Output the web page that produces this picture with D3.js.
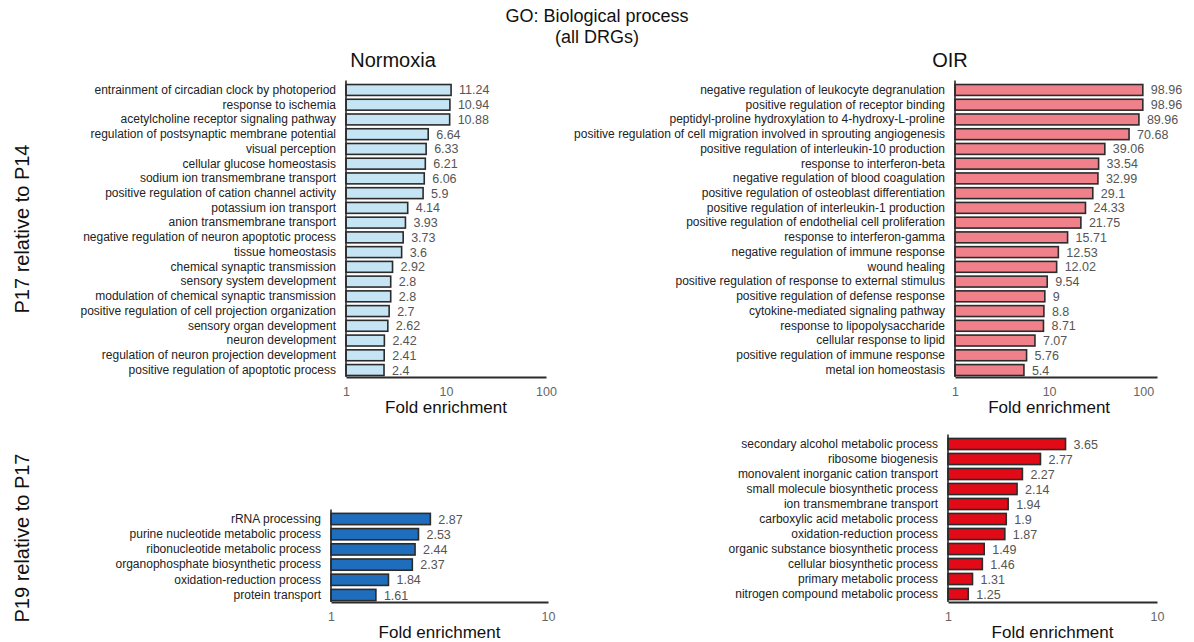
<!DOCTYPE html>
<html>
<head>
<meta charset="utf-8">
<script src="https://cdn.jsdelivr.net/npm/d3@7"></script>
<style>
  html, body { margin: 0; padding: 0; background: #fff; }
  svg { display: block; font-family: "Liberation Sans", Arial, sans-serif; }
</style>
</head>
<body>
<svg id="chart" width="1194" height="642"></svg>
<script>
// GO biological process enrichment, all DRGs
const normoxiaEarlyTerms = [
  "entrainment of circadian clock by photoperiod",
  "response to ischemia",
  "acetylcholine receptor signaling pathway",
  "regulation of postsynaptic membrane potential",
  "visual perception",
  "cellular glucose homeostasis",
  "sodium ion transmembrane transport",
  "positive regulation of cation channel activity",
  "potassium ion transport",
  "anion transmembrane transport",
  "negative regulation of neuron apoptotic process",
  "tissue homeostasis",
  "chemical synaptic transmission",
  "sensory system development",
  "modulation of chemical synaptic transmission",
  "positive regulation of cell projection organization",
  "sensory organ development",
  "neuron development",
  "regulation of neuron projection development",
  "positive regulation of apoptotic process"
];
const normoxiaEarlyValues = [11.24, 10.94, 10.88, 6.64, 6.33, 6.21, 6.06, 5.9, 4.14, 3.93,
  3.73, 3.6, 2.92, 2.8, 2.8, 2.7, 2.62, 2.42, 2.41, 2.4];

const oirEarlyTerms = [
  "negative regulation of leukocyte degranulation",
  "positive regulation of receptor binding",
  "peptidyl-proline hydroxylation to 4-hydroxy-L-proline",
  "positive regulation of cell migration involved in sprouting angiogenesis",
  "positive regulation of interleukin-10 production",
  "response to interferon-beta",
  "negative regulation of blood coagulation",
  "positive regulation of osteoblast differentiation",
  "positive regulation of interleukin-1 production",
  "positive regulation of endothelial cell proliferation",
  "response to interferon-gamma",
  "negative regulation of immune response",
  "wound healing",
  "positive regulation of response to external stimulus",
  "positive regulation of defense response",
  "cytokine-mediated signaling pathway",
  "response to lipopolysaccharide",
  "cellular response to lipid",
  "positive regulation of immune response",
  "metal ion homeostasis"
];
const oirEarlyValues = [98.96, 98.96, 89.96, 70.68, 39.06, 33.54, 32.99, 29.1, 24.33, 21.75,
  15.71, 12.53, 12.02, 9.54, 9, 8.8, 8.71, 7.07, 5.76, 5.4];

const normoxiaLateTerms = [
  "rRNA processing",
  "purine nucleotide metabolic process",
  "ribonucleotide metabolic process",
  "organophosphate biosynthetic process",
  "oxidation-reduction process",
  "protein transport"
];
const normoxiaLateValues = [2.87, 2.53, 2.44, 2.37, 1.84, 1.61];

const oirLateTerms = [
  "secondary alcohol metabolic process",
  "ribosome biogenesis",
  "monovalent inorganic cation transport",
  "small molecule biosynthetic process",
  "ion transmembrane transport",
  "carboxylic acid metabolic process",
  "oxidation-reduction process",
  "organic substance biosynthetic process",
  "cellular biosynthetic process",
  "primary metabolic process",
  "nitrogen compound metabolic process"
];
const oirLateValues = [3.65, 2.77, 2.27, 2.14, 1.94, 1.9, 1.87, 1.49, 1.46, 1.31, 1.25];

const topTicks = [1, 10, 100];
const bottomTicks = [1, 10];

const columnTitles = ["Normoxia", "OIR"];
const rowTitles = ["P17 relative to P14", "P19 relative to P17"];
const xTitle = "Fold enrichment";

const svg = d3.select("#chart");

function drawPanel(terms, values, opts) {
  const g = svg.append("g");
  const x = d3.scaleLog().domain(opts.xDomain).range(opts.xRange);
  const y = d3.scaleBand().domain(terms).range(opts.yRange).paddingInner(0.26).paddingOuter(0.13);
  const rows = terms.map((t, i) => ({ term: t, value: values[i] }));

  // bars
  g.selectAll("rect.bar").data(rows).join("rect")
    .attr("class", "bar")
    .attr("x", x(1))
    .attr("y", d => y(d.term))
    .attr("width", d => x(d.value) - x(1))
    .attr("height", y.bandwidth())
    .attr("fill", opts.fill)
    .attr("stroke", "#2b2b2b")
    .attr("stroke-width", 1.6);

  // value labels
  g.selectAll("text.val").data(rows).join("text")
    .attr("class", "val")
    .attr("x", d => x(d.value) + 8)
    .attr("y", d => y(d.term) + y.bandwidth() / 2)
    .attr("dy", "0.36em")
    .attr("font-size", 12.5)
    .attr("fill", "#555")
    .text(d => String(d.value));

  // category axis
  const yAxis = g.append("g")
    .attr("transform", `translate(${x(1)},0)`)
    .call(d3.axisLeft(y).tickSize(0).tickSizeOuter(0).tickPadding(10));
  yAxis.select(".domain").attr("stroke", "#2b2b2b").attr("stroke-width", 1.6)
    .attr("d", `M0,${opts.yRange[0] - 2}V${opts.axisY}`);
  yAxis.selectAll("text").attr("font-size", 12).attr("fill", "#222")
    .attr("font-family", "Liberation Sans, Arial, sans-serif");

  // fold-enrichment axis
  const xAxis = g.append("g")
    .attr("transform", `translate(0,${opts.axisY})`)
    .call(d3.axisBottom(x).tickValues(opts.ticks).tickFormat(d3.format("d"))
      .tickSize(0).tickSizeOuter(0).tickPadding(10));
  xAxis.select(".domain").attr("stroke", "#2b2b2b").attr("stroke-width", 2);
  xAxis.selectAll("text").attr("font-size", 12.5).attr("fill", "#666")
    .attr("font-family", "Liberation Sans, Arial, sans-serif");

  const t0 = x(opts.ticks[0]), t1 = x(opts.ticks[opts.ticks.length - 1]);
  g.append("text")
    .attr("x", (t0 + t1) / 2)
    .attr("y", opts.axisY + 36)
    .attr("text-anchor", "middle")
    .attr("font-size", 17)
    .attr("fill", "#111")
    .text(xTitle);
}

// main title
svg.append("text").attr("x", 597).attr("y", 22).attr("text-anchor", "middle")
  .attr("font-size", 18).attr("fill", "#111").text("GO: Biological process");
svg.append("text").attr("x", 597).attr("y", 43).attr("text-anchor", "middle")
  .attr("font-size", 18).attr("fill", "#111").text("(all DRGs)");

// column titles
[[393, columnTitles[0]], [950, columnTitles[1]]].forEach(([cx, t]) => {
  svg.append("text").attr("x", cx).attr("y", 67).attr("text-anchor", "middle")
    .attr("font-size", 20).attr("fill", "#111").text(t);
});

// row titles
[[229, rowTitles[0]], [538, rowTitles[1]]].forEach(([cy, t]) => {
  svg.append("text").attr("transform", `translate(29,${cy}) rotate(-90)`)
    .attr("text-anchor", "middle").attr("font-size", 20).attr("fill", "#111").text(t);
});

drawPanel(normoxiaEarlyTerms, normoxiaEarlyValues, {
  xDomain: [1, 100], xRange: [346, 546], yRange: [82.6, 377.4], axisY: 377,
  ticks: topTicks, fill: "#c5e4f4"
});
drawPanel(oirEarlyTerms, oirEarlyValues, {
  xDomain: [1, 140], xRange: [955, 1157], yRange: [82.6, 377.4], axisY: 377,
  ticks: topTicks, fill: "#f0808a"
});
drawPanel(normoxiaLateTerms, normoxiaLateValues, {
  xDomain: [1, 10], xRange: [331, 548], yRange: [511.4, 602.6], axisY: 602,
  ticks: bottomTicks, fill: "#1f6ebe"
});
drawPanel(oirLateTerms, oirLateValues, {
  xDomain: [1, 10], xRange: [948, 1157], yRange: [436.5, 601.5], axisY: 602,
  ticks: bottomTicks, fill: "#e30a17"
});
</script>
</body>
</html>
